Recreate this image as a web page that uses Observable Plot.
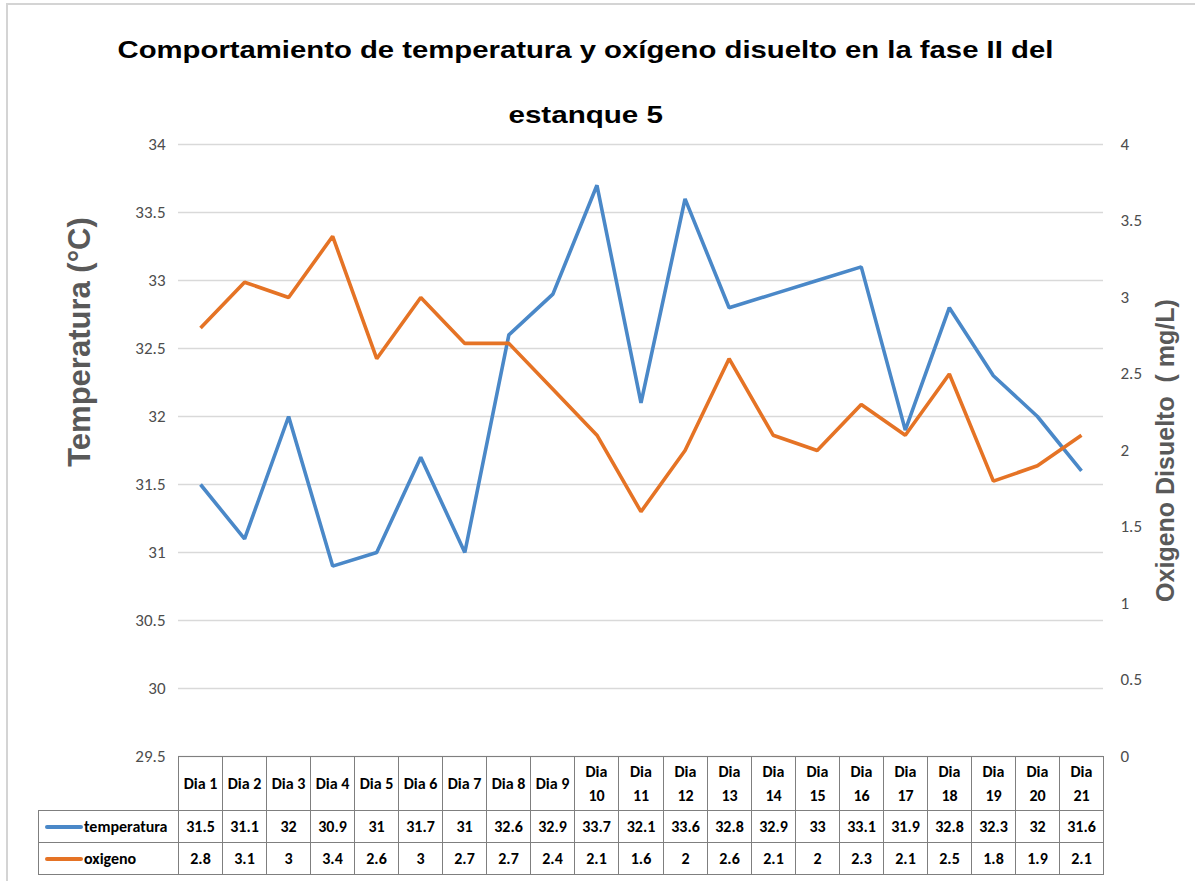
<!DOCTYPE html>
<html><head><meta charset="utf-8">
<script src="https://cdn.jsdelivr.net/npm/d3@7"></script>
<script src="https://cdn.jsdelivr.net/npm/@observablehq/plot@0.6"></script>
<style>
body{margin:0;background:#fff;}
#wrap{position:relative;width:1195px;height:881px;overflow:hidden;background:#fff;}
#border{position:absolute;left:6px;top:3px;width:1300px;height:1000px;border-left:2px solid #d4d4d4;border-top:2px solid #d4d4d4;box-sizing:border-box;}
.title{position:absolute;font-family:"Liberation Sans",Arial,sans-serif;font-weight:bold;font-size:24px;color:#000;white-space:nowrap;transform-origin:50% 50%;}
.atitle{position:absolute;font-family:"Liberation Sans",Arial,sans-serif;font-weight:bold;color:#595959;white-space:pre;}
.cell{position:absolute;box-sizing:border-box;border:1px solid #7f7f7f;display:flex;align-items:center;justify-content:center;text-align:center;font-family:Carlito,Lato,"Open Sans",sans-serif;font-weight:bold;font-size:16px;color:#000;line-height:24px;white-space:nowrap;}
#plot{position:absolute;left:0;top:0;}
</style>
</head><body>
<div id="wrap">
  <div id="border"></div>
  <div id="plot"></div>
</div>
<script>
const days = ["Dia 1","Dia 2","Dia 3","Dia 4","Dia 5","Dia 6","Dia 7","Dia 8","Dia 9","Dia 10","Dia 11","Dia 12","Dia 13","Dia 14","Dia 15","Dia 16","Dia 17","Dia 18","Dia 19","Dia 20","Dia 21"];
const temperatura = [31.5,31.1,32,30.9,31,31.7,31,32.6,32.9,33.7,32.1,33.6,32.8,32.9,33,33.1,31.9,32.8,32.3,32,31.6];
const oxigeno = [2.8,3.1,3,3.4,2.6,3,2.7,2.7,2.4,2.1,1.6,2,2.6,2.1,2,2.3,2.1,2.5,1.8,1.9,2.1];
const tempTicks = [29.5,30,30.5,31,31.5,32,32.5,33,33.5,34];
const oxTicks = [0,0.5,1,1.5,2,2.5,3,3.5,4];
const seriesNames = ["temperatura","oxigeno"];
const titleLines = ["Comportamiento de temperatura y oxígeno disuelto en la fase II del","estanque 5"];
const yTitleLeft = "Temperatura (°C)";
const yTitleRight = "Oxigeno Disuelto  ( mg/L)";

const BLUE = "#4a88c8", ORANGE = "#e57325";
const tMin = 29.5, tMax = 34, oMin = 0, oMax = 4;
const toT = o => tMin + (o - oMin) * (tMax - tMin) / (oMax - oMin);

const rows = days.map((d, i) => ({idx: i + 1, day: d, t: temperatura[i], o: oxigeno[i]}));

const plot = Plot.plot({
  width: 1195, height: 881,
  marginTop: 144, marginBottom: 125, marginLeft: 178, marginRight: 92,
  style: {color: "#4d4d4d", background: "transparent", fontFamily: "Carlito, Lato, 'Open Sans', sans-serif"},
  x: {type: "linear", domain: [0.5, days.length + 0.5], axis: null},
  y: {domain: [tMin, tMax], axis: null},
  marks: [
    Plot.ruleY(tempTicks, {stroke: "#d9d9d9", strokeWidth: 1.6}),
    Plot.axisY(tempTicks, {anchor: "left", label: null, tickSize: 0, tickPadding: 13, fontSize: 17, tickFormat: d => String(d)}),
    Plot.axisY(oxTicks.map(toT), {anchor: "right", label: null, tickSize: 0, tickPadding: 17, fontSize: 17, textAnchor: "start", tickFormat: (d, i) => String(oxTicks[i])}),
    Plot.line(rows, {x: "idx", y: "t", stroke: BLUE, strokeWidth: 3.6, strokeLinejoin: "miter", strokeLinecap: "butt"}),
    Plot.line(rows, {x: "idx", y: d => toT(d.o), stroke: ORANGE, strokeWidth: 3.6, strokeLinejoin: "miter", strokeLinecap: "butt"})
  ]
});
document.getElementById("plot").appendChild(plot);
const wrap = document.getElementById("wrap");
const xs = plot.scale("x"), ys = plot.scale("y");

function addTitle(text, cx, cy, targetW) {
  const el = document.createElement("div");
  el.className = "title"; el.textContent = text;
  wrap.appendChild(el);
  const w = el.offsetWidth, h = el.offsetHeight;
  el.style.left = (cx - w / 2) + "px"; el.style.top = (cy - h / 2) + "px";
  el.style.transform = `scaleX(${targetW / w})`;
}
addTitle(titleLines[0], 585, 50, 936);
addTitle(titleLines[1], 585, 115, 154);

function addATitle(text, cx, cy, size) {
  const el = document.createElement("div");
  el.className = "atitle"; el.textContent = text; el.style.fontSize = size + "px";
  wrap.appendChild(el);
  const w = el.offsetWidth, h = el.offsetHeight;
  el.style.left = (cx - w / 2) + "px"; el.style.top = (cy - h / 2) + "px";
  el.style.transform = "rotate(-90deg)";
}
addATitle(yTitleLeft, 80, 342, 31);
addATitle(yTitleRight, 1165, 450, 25);

const yTop = ys.apply(tMin), rowH = [54, 32, 32];
const r0 = yTop, r1 = r0 + rowH[0], r2 = r1 + rowH[1], r3 = r2 + rowH[2];
function cell(x0, y0, x1, y1, html) {
  const el = document.createElement("div");
  el.className = "cell";
  el.style.left = Math.round(x0) + "px"; el.style.top = Math.round(y0) + "px";
  el.style.width = (Math.round(x1) - Math.round(x0) + 1) + "px";
  el.style.height = (Math.round(y1) - Math.round(y0) + 1) + "px";
  el.innerHTML = html;
  wrap.appendChild(el);
  return el;
}
rows.forEach(r => {
  const x0 = xs.apply(r.idx - 0.5), x1 = xs.apply(r.idx + 0.5);
  const parts = r.day.split(" ");
  const label = parts[1].length > 1 ? parts[0] + "<br>" + parts[1] : r.day;
  cell(x0, r0, x1, r1, label);
  cell(x0, r1, x1, r2, String(r.t));
  cell(x0, r2, x1, r3, String(r.o));
});
const labX0 = 38, labX1 = xs.apply(0.5);
[[seriesNames[0], BLUE, r1, r2], [seriesNames[1], ORANGE, r2, r3]].forEach(([name, col, a, b]) => {
  const el = cell(labX0, a, labX1, b, `<span style="display:inline-block;width:38px;height:4px;border-radius:2px;background:${col};margin-right:1px;vertical-align:middle"></span><span>${name}</span>`);
  el.style.justifyContent = "flex-start";
  el.style.paddingLeft = "6px";
});
</script>
</body></html>
